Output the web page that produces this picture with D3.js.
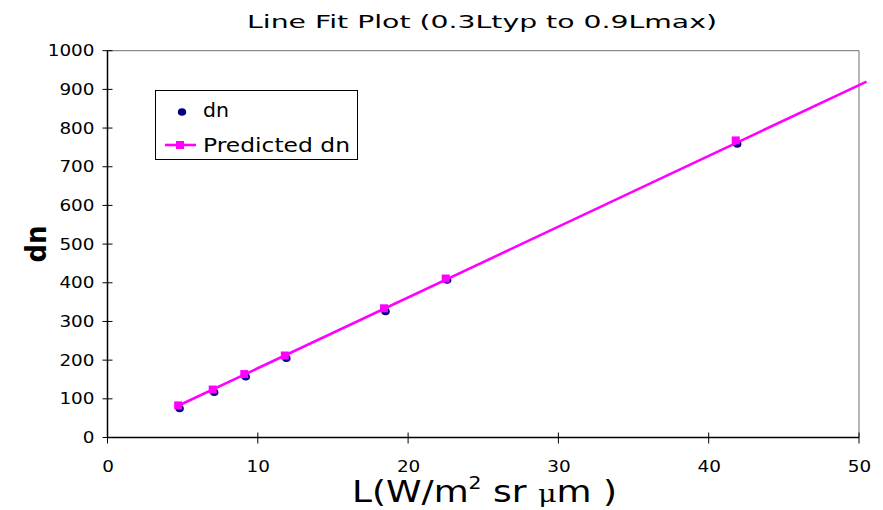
<!DOCTYPE html>
<html>
<head>
<meta charset="utf-8">
<script src="https://cdn.jsdelivr.net/npm/d3@7"></script>
<style>
  html, body { margin: 0; padding: 0; background: #fff; }
  svg { display: block; }
  text { font-family: "DejaVu Sans", Verdana, sans-serif; fill: #000; }
</style>
</head>
<body>
<svg id="chart" width="883" height="510"></svg>
<script>
// Radiance (x) against digital number (y), with the fitted line
const radiance  = [4.7, 7.0, 9.1, 11.8, 18.4, 22.5, 41.8];
const dnValues  = [75, 117, 157, 205, 326, 407, 759];
const predicted = [83, 124, 164, 212, 334, 411, 768];

// Least-squares line drawn from the first sample out past the axis end
const fitSlope = 18.3;
const fitIntercept = -4;
const fitEndL = 50.5;

const xTicks = [0, 10, 20, 30, 40, 50];
const yTicks = [0, 100, 200, 300, 400, 500, 600, 700, 800, 900, 1000];

const titleText = "Line Fit Plot (0.3Ltyp to 0.9Lmax)";
const legendLabels = ["dn", "Predicted dn"];

const svg = d3.select("#chart");
const plot = { left: 107.5, right: 859, top: 50.7, bottom: 437.5 };
const STRETCH = 1.15;

const x = d3.scaleLinear().domain([0, 50]).range([plot.left, plot.right]);
const y = d3.scaleLinear().domain([0, 1000]).range([plot.bottom, plot.top]);

// Title
svg.append("text")
  .attr("x", 482).attr("y", 28)
  .attr("text-anchor", "middle")
  .attr("font-size", 18)
  .attr("textLength", 470).attr("lengthAdjust", "spacingAndGlyphs")
  .text(titleText);

// Plot frame: grey top/right edges
svg.append("path")
  .attr("d", `M${plot.left},${plot.top}H${plot.right}V${plot.bottom}`)
  .attr("fill", "none").attr("stroke", "#707070").attr("stroke-width", 1);

// Y axis labels
const yAxis = svg.append("g")
  .attr("transform", `translate(${plot.left},0)`)
  .call(d3.axisLeft(y).tickValues(yTicks).tickSize(0).tickPadding(0).tickFormat(d3.format("d")));
yAxis.select(".domain").remove();
yAxis.selectAll("text")
  .attr("font-size", 16)
  .attr("font-family", "DejaVu Sans, sans-serif")
  .attr("x", 0)
  .attr("transform", `translate(-13,0) scale(${STRETCH},1)`);

// X axis labels
const xAxis = svg.append("g")
  .attr("transform", `translate(0,${plot.bottom})`)
  .call(d3.axisBottom(x).tickValues(xTicks).tickSize(0).tickPadding(0).tickFormat(d3.format("d")));
xAxis.select(".domain").remove();
xAxis.selectAll("text")
  .attr("font-size", 16)
  .attr("font-family", "DejaVu Sans, sans-serif")
  .attr("y", 0).attr("dy", 0)
  .attr("transform", `translate(0,34) scale(${STRETCH},1)`);

// Axis lines with ticks crossing them
svg.append("line")
  .attr("x1", plot.left).attr("x2", plot.left)
  .attr("y1", plot.top).attr("y2", plot.bottom)
  .attr("stroke", "#000").attr("stroke-width", 1.5);
svg.append("line")
  .attr("x1", plot.left).attr("x2", plot.right)
  .attr("y1", plot.bottom).attr("y2", plot.bottom)
  .attr("stroke", "#000").attr("stroke-width", 1.5);
svg.append("g").selectAll("line").data(yTicks).join("line")
  .attr("x1", plot.left - 5).attr("x2", plot.left + 5)
  .attr("y1", d => y(d)).attr("y2", d => y(d))
  .attr("stroke", "#000").attr("stroke-width", 1);
svg.append("g").selectAll("line").data(xTicks).join("line")
  .attr("x1", d => x(d)).attr("x2", d => x(d))
  .attr("y1", plot.bottom - 5).attr("y2", plot.bottom + 6)
  .attr("stroke", "#000").attr("stroke-width", 1);

// Axis titles
const xt = svg.append("text")
  .attr("x", 352).attr("y", 502)
  .attr("font-size", 30)
  .attr("textLength", 265).attr("lengthAdjust", "spacingAndGlyphs");
xt.append("tspan").text("L(W/m");
xt.append("tspan").attr("font-size", 17).attr("dy", -13).text("2");
xt.append("tspan").attr("dy", 13).text(" sr ");
xt.append("tspan").attr("font-size", 24).attr("font-family", "DejaVu Serif, serif").text("\u03BC");
xt.append("tspan").text("m )");

svg.append("text")
  .attr("transform", "translate(46,244) rotate(-90)")
  .attr("text-anchor", "middle")
  .attr("font-size", 28)
  .attr("font-weight", "bold")
  .attr("textLength", 37).attr("lengthAdjust", "spacingAndGlyphs")
  .text("dn");

// Observed dn markers
const pts = radiance.map((L, i) => ({ L, dn: dnValues[i], pred: predicted[i] }));
svg.append("g").selectAll("ellipse").data(pts).join("ellipse")
  .attr("cx", d => x(d.L) + 1.5).attr("cy", d => y(d.dn))
  .attr("rx", 4.2).attr("ry", 3.8)
  .attr("fill", "#000080");

// Fitted line
const fitLine = d3.line().x(d => x(d)).y(d => y(fitSlope * d + fitIntercept));
svg.append("path")
  .datum([radiance[0], fitEndL])
  .attr("d", fitLine)
  .attr("fill", "none").attr("stroke", "#FF00FF").attr("stroke-width", 2.6);

// Predicted markers
svg.append("g").selectAll("rect").data(pts).join("rect")
  .attr("x", d => x(d.L) - 4).attr("y", d => y(d.pred) - 4)
  .attr("width", 8).attr("height", 8)
  .attr("fill", "#FF00FF");

// Legend
const lg = svg.append("g");
lg.append("rect")
  .attr("x", 155.5).attr("y", 90.5).attr("width", 202).attr("height", 69)
  .attr("fill", "#fff").attr("stroke", "#000").attr("stroke-width", 1);
lg.append("ellipse").attr("cx", 182).attr("cy", 112).attr("rx", 4.2).attr("ry", 3.8).attr("fill", "#000080");
lg.append("line").attr("x1", 165).attr("x2", 196).attr("y1", 145).attr("y2", 145)
  .attr("stroke", "#FF00FF").attr("stroke-width", 2.6);
lg.append("rect").attr("x", 176).attr("y", 141).attr("width", 8).attr("height", 8).attr("fill", "#FF00FF");
lg.append("text").attr("x", 203).attr("y", 117).attr("font-size", 20)
  .attr("textLength", 26).attr("lengthAdjust", "spacingAndGlyphs").text(legendLabels[0]);
lg.append("text").attr("x", 203).attr("y", 152).attr("font-size", 20)
  .attr("textLength", 147).attr("lengthAdjust", "spacingAndGlyphs").text(legendLabels[1]);
</script>
</body>
</html>
